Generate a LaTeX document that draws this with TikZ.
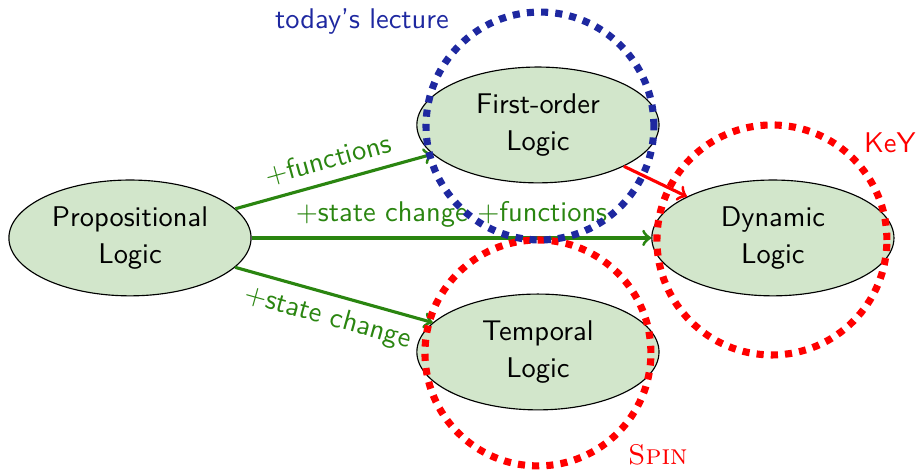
\documentclass[tikz,border=0pt]{standalone}
\usetikzlibrary{shapes.geometric}
\definecolor{logicfill}{HTML}{D2E6CB}
\definecolor{edgegreen}{HTML}{2A8510}
\definecolor{lecblue}{HTML}{1E28A0}
\tikzset{
  logic/.style={
    ellipse,
    draw=black,
    fill=logicfill,
    minimum width=2.99cm,
    minimum height=1.43cm,
    inner sep=0pt,
    align=center,
    font=\sffamily\fontsize{10}{13}\selectfont
  },
  ext/.style={
    ->,
    draw=edgegreen,
    line width=1.1pt
  },
  extlabel/.style={
    text=edgegreen,
    font=\sffamily,
    midway,
    sloped
  },
  tool/.style={
    line width=2.5pt,
    dash pattern=on 2.5pt off 2.5pt
  }
}
\begin{document}
\begin{tikzpicture}
  \useasboundingbox (0,0) rectangle (11.31,-5.815);

  \node[logic] (prop) at (1.605,-2.938) {Propositional\\Logic};
  \node[logic] (fol) at (6.642,-1.543) {First-order\\Logic};
  \node[logic] (temp) at (6.642,-4.346) {Temporal\\Logic};
  \node[logic] (dyn) at (9.543,-2.938) {Dynamic\\Logic};

  \draw[ext] (prop) -- (fol)
    node[extlabel, above] (funlabel) {$+$functions};
  \draw[ext] (prop) -- (dyn)
    node[extlabel, above] (bothlabel) {$+$state change $+$functions};
  \draw[ext] (prop) -- (temp)
    node[extlabel, below] (statelabel) {$+$state change};
  \draw[->, red, line width=1.1pt] (fol) -- (dyn);

  % tool coverage
  \coordinate (spinc) at (6.642,-4.358);
  \coordinate (keyc) at (9.531,-2.963);
  \coordinate (lecc) at (6.667,-1.556);
  \draw[tool, red] (spinc) circle (1.395cm);
  \draw[tool, red] (keyc) circle (1.42cm);
  \draw[tool, lecblue] (lecc) circle (1.407cm);

  \node[text=lecblue, font=\sffamily] (lecture) at (4.469,-0.272) {today's lecture};
  \node[text=red, font=\sffamily] (key) at (10.988,-1.765) {KeY};
  \node[text=red, font=\rmfamily\scshape] (spin) at (8.123,-5.617) {Spin};
\end{tikzpicture}
\end{document}
